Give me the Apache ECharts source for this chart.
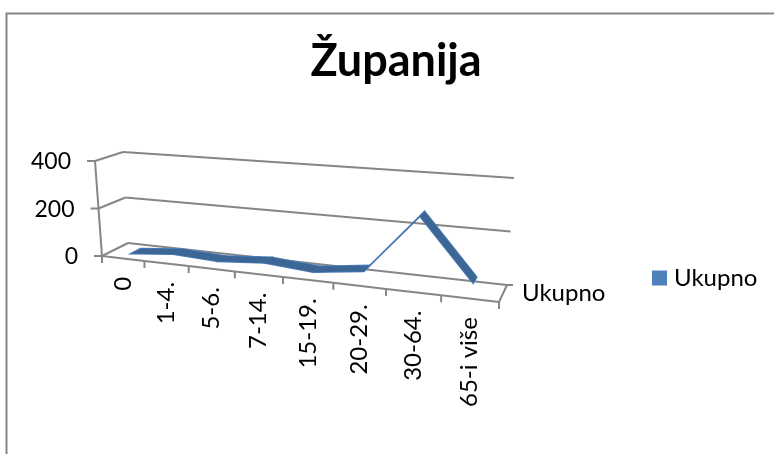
<!DOCTYPE html>
<html>
<head>
<meta charset="utf-8">
<title>Županija</title>
<style>
html, body { margin: 0; padding: 0; background: #fff; }
#chart { width: 774px; height: 454px; }
</style>
<script src="https://cdn.jsdelivr.net/npm/echarts@6/dist/echarts.min.js"></script>
</head>
<body>
<div id="chart"></div>
<script>
var categories = ['0', '1-4.', '5-6.', '7-14.', '15-19.', '20-29.', '30-64.', '65-i više'];
var ukupno = [3, 21, 12, 27, 12, 37, 265, 37];
var yTicks = [0, 200, 400];
var seriesName = 'Ukupno';

var FONT = 'Lato';
var AXIS_COLOR = '#868686';

// flat plot area, the hidden axes map the values onto this
var L = 102, W = 397, T = 161, H = 95;
var GAP = 0.3; // ribbon sits between depth GAP and 1-GAP

// floor corners of the 3d box and the 400 height vector at each of them
var FL = [102, 256], FR = [499, 302], BL = [128, 243], BR = [507, 285];
var upFL = [-7, -95], upFR = [8, -112], upBL = [-5, -91], upBR = [7, -107];
var warpB = -0.02025;

function mix(a, b, c, d, u, z) {
    var r = [];
    for (var k = 0; k < 2; k++) {
        r[k] = (a[k] * (1 - u) + b[k] * u) * (1 - z) + (c[k] * (1 - u) + d[k] * u) * z;
    }
    return r;
}

// flat pixel from the axes + depth -> picture position
function project(p, z) {
    var t = (p[0] - L) / W * 8;
    var u = (t / 8) * (1 + 8 * warpB) / (1 + t * warpB);
    var h = (T + H - p[1]) / H;
    var base = mix(FL, FR, BL, BR, u, z);
    var up = mix(upFL, upFR, upBL, upBR, u, z);
    return [base[0] + up[0] * h, base[1] + up[1] * h];
}

function lineEl(a, b) {
    return {
        type: 'line',
        shape: { x1: a[0], y1: a[1], x2: b[0], y2: b[1] },
        style: { stroke: AXIS_COLOR, lineWidth: 2 }
    };
}

function textEl(pos, str, rot, align, vAlign, size) {
    return {
        type: 'text',
        x: pos[0],
        y: pos[1],
        rotation: rot,
        style: { text: str, fill: '#000', font: size + 'px ' + FONT, align: align, verticalAlign: vAlign }
    };
}

// walls: one item for each value tick
function renderWall(params, api) {
    var p = api.coord([0, yTicks[params.dataIndex]]);
    p[0] = L;
    var front = project(p, 0);
    var back = project(p, 1);
    var right = project([L + W, p[1]], 1);
    var tickEnd = [front[0] - 8, front[1]];
    var kids = [
        lineEl(tickEnd, front),
        lineEl(front, back),
        lineEl(back, right),
        textEl([tickEnd[0] - 16, front[1] + 1], String(yTicks[params.dataIndex]), 0, 'right', 'middle', 23)
    ];
    if (params.dataIndex > 0) {
        kids.push(lineEl(project([L, p[1] + H / 2], 0), front));
    }
    return { type: 'group', children: kids };
}

// floor front edge, ticks and the rotated labels
function renderFloor(params, api) {
    var i = params.dataIndex;
    var c = api.coord([i, 0]);
    var band = api.size([1, 0])[0];
    var a = project([c[0] - band / 2, c[1]], 0);
    var b = project([c[0] + band / 2, c[1]], 0);
    var mid = project(c, 0);
    var kids = [
        lineEl(a, b),
        lineEl(b, [b[0], b[1] + 7]),
        textEl([mid[0], mid[1] + 18.5], categories[i], Math.PI / 2, 'right', 'middle', 24)
    ];
    if (i === 0) {
        kids.push(lineEl(a, [a[0], a[1] + 7]));
    }
    if (i === categories.length - 1) {
        var br = project([c[0] + band / 2, c[1]], 1);
        kids.push(lineEl(b, br));
        kids.push(lineEl(br, [br[0] + 6, br[1]]));
        kids.push(textEl([br[0] + 15, br[1] + 8], seriesName, 0, 'left', 'middle', 24));
    }
    return { type: 'group', children: kids };
}

// the flat ribbon of the 3d line, one quad for each segment
// lighter outline goes under the fill so the joins don't show
function renderRibbon(params, api) {
    var i = params.dataIndex;
    if (i >= ukupno.length - 1) {
        return null;
    }
    var p0 = api.coord([i, ukupno[i]]);
    var p1 = api.coord([i + 1, ukupno[i + 1]]);
    var pts = [project(p0, GAP), project(p1, GAP), project(p1, 1 - GAP), project(p0, 1 - GAP)];
    return {
        type: 'group',
        children: [
            { type: 'polygon', z2: 1, shape: { points: pts }, style: { fill: null, stroke: '#4f81bd', lineWidth: 1.5 } },
            { type: 'polygon', z2: 2, shape: { points: pts }, style: { fill: '#3c6696', stroke: null } }
        ]
    };
}

var chart = echarts.init(document.getElementById('chart'));
chart.setOption({
    animation: false,
    backgroundColor: '#fff',
    textStyle: { fontFamily: FONT },
    title: {
        text: 'Županija',
        left: 391,
        top: 34,
        textAlign: 'center',
        textStyle: { fontFamily: FONT, fontSize: 45, fontWeight: 'bold', color: '#000' }
    },
    legend: {
        data: [{ name: seriesName, icon: 'rect', itemStyle: { color: '#4f81bd', borderWidth: 0 } }],
        left: 652,
        top: 266,
        padding: 0,
        itemWidth: 15,
        itemHeight: 15,
        textStyle: { fontFamily: FONT, fontSize: 24, color: '#000', padding: [0, 0, 0, 2] }
    },
    grid: { left: L, top: T, width: W, height: H },
    xAxis: { type: 'category', data: categories, show: false },
    yAxis: { type: 'value', min: 0, max: 400, interval: 200, show: false },
    graphic: [{
        type: 'polyline',
        shape: { points: [[6.5, 454], [6.5, 13.5], [774, 13.5]] },
        style: { stroke: AXIS_COLOR, lineWidth: 2, fill: null },
        silent: true
    }],
    series: [
        {
            type: 'custom',
            name: 'zidovi',
            silent: true,
            clip: false,
            renderItem: renderWall,
            data: yTicks.map(function (v) { return [0, v]; }),
            encode: { x: 0, y: 1 },
            z: 1
        },
        {
            type: 'custom',
            name: 'pod',
            silent: true,
            clip: false,
            renderItem: renderFloor,
            data: categories.map(function (c, i) { return [i, 0]; }),
            encode: { x: 0, y: 1 },
            z: 1
        },
        {
            type: 'custom',
            name: seriesName,
            silent: true,
            clip: false,
            renderItem: renderRibbon,
            itemStyle: { color: '#4f81bd' },
            data: ukupno.map(function (v, i) { return [i, v]; }),
            encode: { x: 0, y: 1 },
            z: 2
        }
    ]
});
</script>
</body>
</html>
